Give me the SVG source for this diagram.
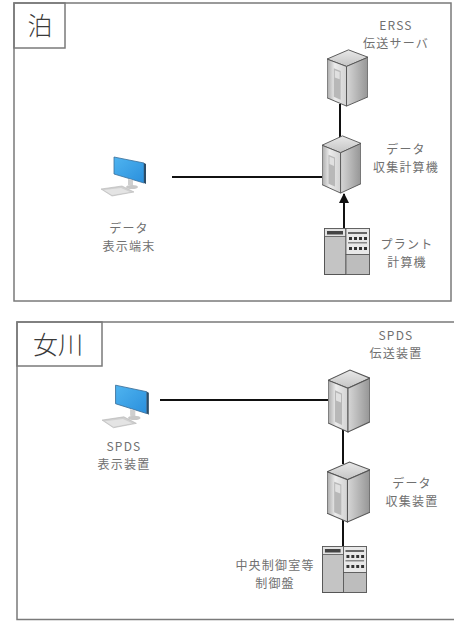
<svg xmlns="http://www.w3.org/2000/svg" width="454" height="621" viewBox="0 0 454 621">
<style>
.frame{fill:none;stroke:#7a7a7a;stroke-width:1.5}
.title{font-family:"Noto Sans CJK JP","Noto Sans",sans-serif;font-size:25px;font-weight:300;fill:#3a3a3a;text-anchor:middle}
.lbl{font-family:"Noto Sans CJK JP","Noto Sans",sans-serif;font-size:12px;letter-spacing:1.2px;fill:#707070;text-anchor:middle}
.conn{stroke:#111;stroke-width:2;fill:none}
</style>
<defs>
<linearGradient id="gL" x1="0" y1="0" x2="1" y2="0">
<stop offset="0" stop-color="#a8a8a8"/><stop offset="0.4" stop-color="#ececec"/><stop offset="1" stop-color="#d2d2d2"/>
</linearGradient>
<linearGradient id="gR" x1="0" y1="0" x2="1" y2="0">
<stop offset="0" stop-color="#d6d6d6"/><stop offset="1" stop-color="#959595"/>
</linearGradient>
<linearGradient id="gT" x1="0" y1="0" x2="0" y2="1">
<stop offset="0" stop-color="#e8e8e8"/><stop offset="1" stop-color="#c4c4c4"/>
</linearGradient>
<linearGradient id="gScr" x1="0" y1="0" x2="1" y2="1">
<stop offset="0" stop-color="#4fb4f0"/><stop offset="1" stop-color="#2a8fdc"/>
</linearGradient>
<symbol id="server" viewBox="0 0 42 64" preserveAspectRatio="none">
<polygon points="0,12 22,2 42,10 20,20" fill="url(#gT)" stroke="#555" stroke-width="1"/>
<polygon points="0,12 20,20 20,63 0,54" fill="url(#gL)" stroke="#555" stroke-width="1"/>
<polygon points="20,20 42,10 42,53 20,63" fill="url(#gR)" stroke="#555" stroke-width="1"/>
<polygon points="7,22 14,25 14,56 7,53" fill="#b8b8b8"/>
<polygon points="8,24 13,26 13,34 8,32" fill="#e0e0e0"/>
</symbol>
<symbol id="panel" viewBox="0 0 46 47" preserveAspectRatio="none">
<rect x="0.5" y="0.5" width="45" height="46" fill="#c4c4c4" stroke="#555"/>
<rect x="0.5" y="0.5" width="21.5" height="8" fill="#e2e2e2" stroke="#555" stroke-width="0.8"/>
<rect x="3" y="3" width="16" height="3.5" fill="#444"/>
<line x1="22" y1="0.5" x2="22" y2="46.5" stroke="#555"/>
<rect x="22" y="0.5" width="23.5" height="26" fill="#e8e8e8" stroke="#555" stroke-width="0.8"/>
<rect x="24" y="4" width="19" height="2" fill="#666"/>
<g fill="#333">
<rect x="25" y="9" width="3" height="3"/><rect x="30" y="9" width="3" height="3"/><rect x="35" y="9" width="3" height="3"/><rect x="40" y="9" width="3" height="3"/>
<rect x="25" y="19" width="3" height="3"/><rect x="30" y="19" width="3" height="3"/><rect x="35" y="19" width="3" height="3"/><rect x="40" y="19" width="3" height="3"/>
</g>
<rect x="24" y="14" width="19" height="1.5" fill="#888"/>
<rect x="22" y="26.5" width="23.5" height="20" fill="#bdbdbd" stroke="#555" stroke-width="0.8"/>
</symbol>
<symbol id="pc" viewBox="0 0 50 44" preserveAspectRatio="none">
<polygon points="14,2 44,8 44,28 14,19" fill="url(#gScr)" stroke="#3b6f99" stroke-width="0.8"/>
<polygon points="44,8 46,9 46,29 44,28" fill="#2c4c66"/>
<polygon points="28,24 33,25 33,31 28,30" fill="#cfcfcf"/>
<ellipse cx="32" cy="32" rx="6" ry="2" fill="#c8c8c8"/>
<polygon points="1,34 22,31 34,37 12,41" fill="#d0d0d0" stroke="#b5b5b5" stroke-width="0.6"/>
<polygon points="4,35 21,33 30,37 12,40" fill="#e4e4e4"/>
</symbol>
<marker id="arr" viewBox="0 0 10 10" refX="9" refY="5" markerWidth="5" markerHeight="5" orient="auto" markerUnits="strokeWidth">
<path d="M0,0 L10,5 L0,10 z" fill="#111"/>
</marker>
</defs>
<rect width="454" height="621" fill="#fff"/>

<g id="panel-tomari">
<rect class="frame" x="14" y="3" width="437" height="298"/>
<rect class="frame" x="14" y="3" width="51" height="45"/>
<text class="title" x="40" y="35">泊</text>
</g>
<g id="panel-onagawa">
<rect class="frame" x="17" y="322" width="445" height="297.5"/>
<rect class="frame" x="17" y="322" width="85" height="44"/>
<text class="title" x="58" y="354">女川</text>
</g>

<g id="connectors">
<line class="conn" x1="340" y1="104" x2="340" y2="138"/>
<line class="conn" x1="172" y1="177" x2="324" y2="177"/>
<line class="conn" x1="344" y1="229" x2="344" y2="194" marker-end="url(#arr)"/>
<line class="conn" x1="160" y1="400" x2="330" y2="400"/>
<line class="conn" x1="343" y1="430" x2="343" y2="464"/>
<line class="conn" x1="343" y1="547" x2="343" y2="508" marker-end="url(#arr)"/>
</g>

<g id="erss-server">
<use href="#server" x="327" y="48" width="41" height="59"/>
<text class="lbl" x="396" y="30">ERSS</text>
<text class="lbl" x="396" y="48">伝送サーバ</text>
</g>
<g id="tomari-data-server">
<use href="#server" x="322" y="134" width="39" height="60"/>
<text class="lbl" x="406" y="154">データ</text>
<text class="lbl" x="406" y="172">収集計算機</text>
</g>
<g id="tomari-terminal">
<use href="#pc" x="100" y="155" width="50" height="44"/>
<text class="lbl" x="129" y="233">データ</text>
<text class="lbl" x="129" y="251">表示端末</text>
</g>
<g id="plant-computer">
<use href="#panel" x="324" y="228" width="46" height="47"/>
<text class="lbl" x="407" y="249">プラント</text>
<text class="lbl" x="407" y="267">計算機</text>
</g>

<g id="spds-transfer">
<use href="#server" x="328" y="368" width="42" height="65"/>
<text class="lbl" x="396" y="340">SPDS</text>
<text class="lbl" x="396" y="358">伝送装置</text>
</g>
<g id="onagawa-data">
<use href="#server" x="327" y="460" width="43" height="63"/>
<text class="lbl" x="412" y="488">データ</text>
<text class="lbl" x="412" y="506">収集装置</text>
</g>
<g id="spds-display">
<use href="#pc" x="101" y="383" width="52" height="48"/>
<text class="lbl" x="124" y="451">SPDS</text>
<text class="lbl" x="124" y="469">表示装置</text>
</g>
<g id="control-panel">
<use href="#panel" x="322" y="546" width="45" height="47"/>
<text class="lbl" x="275" y="570">中央制御室等</text>
<text class="lbl" x="275" y="588">制御盤</text>
</g>
</svg>
